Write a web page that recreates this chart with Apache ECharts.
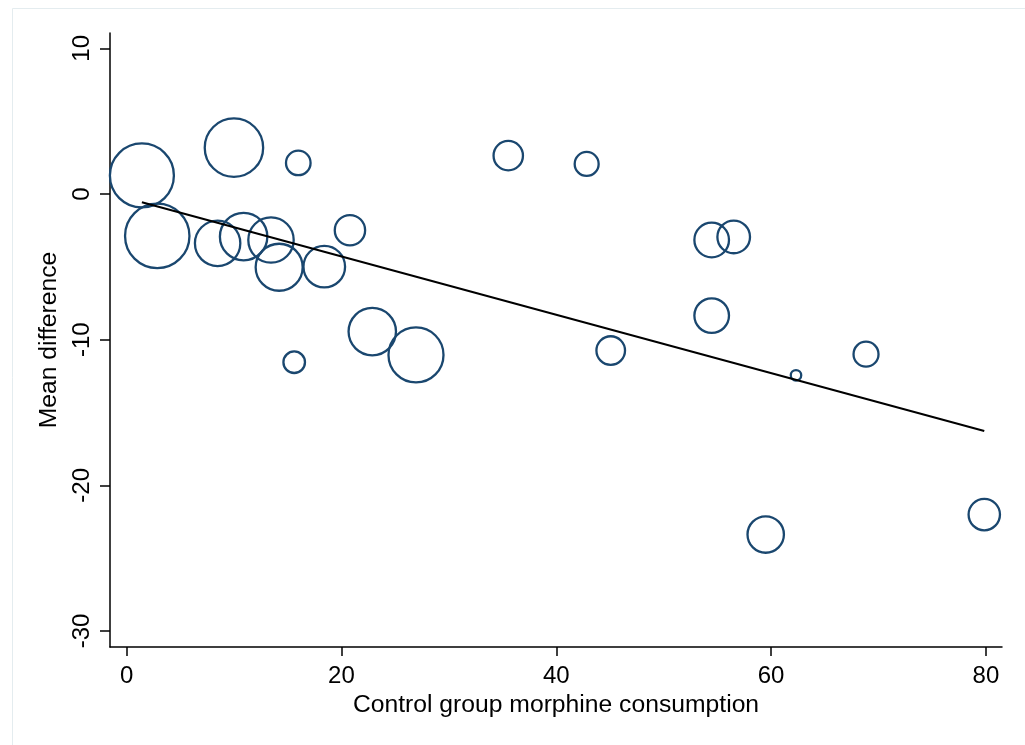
<!DOCTYPE html>
<html>
<head>
<meta charset="utf-8">
<script src="https://cdn.jsdelivr.net/npm/echarts@6/dist/echarts.min.js"></script>
<style>
html,body{margin:0;padding:0;background:#fff;}
#chart{width:1025px;height:745px;}
</style>
</head>
<body>
<div id="chart"></div>
<script>
// Study-level data: control group morphine consumption, mean difference, weight
const xValues = [1.42, 9.99, 15.98, 2.85, 8.47, 10.89, 13.44, 14.2, 18.4, 20.79, 22.87, 26.94, 15.6,
                 35.53, 42.83, 54.47, 56.52, 54.47, 45.07, 62.32, 68.84, 59.5, 79.85];
const yValues = [1.27, 3.18, 2.13, -2.88, -3.39, -2.93, -3.16, -5.03, -4.99, -2.49, -9.45, -11.05, -11.55,
                 2.63, 2.06, -3.16, -2.95, -8.35, -10.75, -12.45, -11.0, -23.38, -22.01];
const weights = [98.1, 82.2, 15.9, 99.3, 50.6, 55.0, 50.6, 54.1, 42.8, 23.6, 55.0, 73.2, 12.5,
                 22.2, 15.2, 30.2, 27.0, 30.2, 21.1, 3.5, 16.4, 33.2, 25.1];
// Fitted meta-regression line (endpoints)
const fitX = [1.42, 79.85];
const fitY = [-0.57, -16.27];
// Tick labels
const xTicks = [0, 20, 40, 60, 80];
const yTicks = [-30, -20, -10, 0, 10];

const bubbleData = xValues.map((x, i) => [x, yValues[i], weights[i]]);
const lineData = fitX.map((x, i) => [x, fitY[i]]);

const FONT = '"Liberation Sans", Arial, Helvetica, sans-serif';
const chart = echarts.init(document.getElementById('chart'));
chart.setOption({
  animation: false,
  backgroundColor: '#ffffff',
  graphic: [{
    type: 'rect', left: 10, top: 6,
    shape: {width: 1100, height: 800},
    style: {fill: 'none', stroke: '#e4ecef', lineWidth: 1},
    silent: true
  }],
  grid: {left: 110, right: 23, top: 33, bottom: 98, containLabel: false},
  xAxis: {
    type: 'value', min: -1.55, max: 81.5,
    name: 'Control group morphine consumption',
    nameLocation: 'middle', nameGap: 43,
    nameTextStyle: {fontFamily: FONT, fontSize: 24.7, color: '#000'},
    axisLine: {show: true, onZero: false, lineStyle: {color: '#000', width: 1.5}},
    axisTick: {show: true, length: 9, lineStyle: {color: '#000', width: 1.5}, customValues: xTicks},
    axisLabel: {fontFamily: FONT, fontSize: 24, color: '#000', margin: 17, customValues: xTicks},
    splitLine: {show: false}
  },
  yAxis: {
    type: 'value', min: -31.1, max: 11.05,
    name: 'Mean difference',
    nameLocation: 'middle', nameGap: 45,
    nameTextStyle: {fontFamily: FONT, fontSize: 24.7, color: '#000'},
    axisLine: {show: true, onZero: false, lineStyle: {color: '#000', width: 1.5}},
    axisTick: {show: true, length: 10, lineStyle: {color: '#000', width: 1.5}, customValues: yTicks},
    axisLabel: {fontFamily: FONT, fontSize: 24, color: '#000', margin: 16, rotate: 90, customValues: yTicks},
    splitLine: {show: false}
  },
  series: [{
    type: 'scatter',
    data: bubbleData,
    symbol: 'circle',
    symbolSize: d => 2 * Math.sqrt(d[2] * 11.1) - 2,
    itemStyle: {color: 'rgba(0,0,0,0)', borderColor: '#1a476f', borderWidth: 2.3, opacity: 1},
    z: 2
  }, {
    type: 'line',
    data: lineData,
    symbol: 'none',
    lineStyle: {color: '#000', width: 2},
    z: 3
  }]
});
</script>
</body>
</html>
